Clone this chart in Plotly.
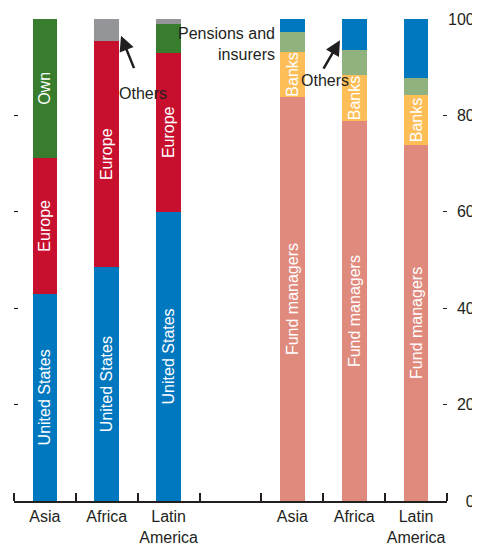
import plotly.graph_objects as go

# left group: origin of investors, right group: type of investor (percent)
regions = ["Asia", "Africa", "Latin<br>America"]
x_left = [0, 1, 2]
x_right = [4, 5, 6]

us = [43, 48.5, 60]
europe = [28.2, 46.9, 33]
own = [28.8, 0, 6]
others_origin = [0, 4.6, 1]

fund_managers = [83.8, 78.8, 73.9]
banks = [9.4, 9.6, 10.3]
pensions = [4.1, 5.2, 3.6]
others_type = [2.7, 6.4, 12.2]

yticks = [0, 20, 40, 60, 80, 100]
# pad with no-break spaces so the labels line up on the right like the original
ytick_text = ["\u00a0" * 4 + "0", "\u00a0\u00a020", "\u00a0\u00a040", "\u00a0\u00a060", "\u00a0\u00a080", "100"]

FONT = "Liberation Sans, Arial, sans-serif"
INK = "#231F20"
BAR_W = 0.4
FS = 16

fig = go.Figure()


def add_segment(x, y, color, labels=None):
    fig.add_trace(go.Bar(
        x=x, y=y, width=BAR_W, marker=dict(color=color, line=dict(width=0)),
        text=labels, textposition="inside" if labels else "none", textangle=-90,
        insidetextanchor="middle", insidetextfont=dict(color="white", size=FS, family=FONT),
        hoverinfo="skip", showlegend=False,
    ))


add_segment(x_left, us, "#0078BF", ["United States"] * 3)
add_segment(x_left, europe, "#C8102E", ["Europe"] * 3)
add_segment(x_left, own, "#377D2D", ["Own", "", ""])
add_segment(x_left, others_origin, "#939598")

add_segment(x_right, fund_managers, "#E08A7D", ["Fund managers"] * 3)
add_segment(x_right, banks, "#FDBD57", ["Banks"] * 3)
add_segment(x_right, pensions, "#8FB27E")
add_segment(x_right, others_type, "#0078BF")

# dummy trace so the right axis gets drawn
fig.add_trace(go.Scatter(x=[0], y=[0], yaxis="y2", mode="none", showlegend=False, hoverinfo="skip"))

# annotations
arrows = [
    dict(x=1.23, y=96.5, ax=1.45, ay=89.5),
    dict(x=4.77, y=95.6, ax=4.49, ay=89.4),
]
for a in arrows:
    fig.add_annotation(x=a["x"], y=a["y"], ax=a["ax"], ay=a["ay"], axref="x", ayref="y",
                       text="", showarrow=True, arrowhead=2, arrowsize=1.2, arrowwidth=2.5,
                       arrowcolor=INK)
fig.add_annotation(x=1.58, y=84.6, text="Others", showarrow=False, font=dict(size=FS, color=INK, family=FONT))
fig.add_annotation(x=4.52, y=87.3, text="Others", showarrow=False, font=dict(size=FS, color=INK, family=FONT))
fig.add_annotation(x=3.75, y=94.8, text="Pensions and<br>insurers", showarrow=False, xanchor="right",
                   align="right", font=dict(size=FS, color=INK, family=FONT))

# page body adds an 8px margin, so the figure is 8px smaller than the window
fig.update_layout(
    width=472, height=541,
    margin=dict(l=6, r=33, t=11, b=48),
    barmode="stack",
    plot_bgcolor="white", paper_bgcolor="white",
    font=dict(family=FONT, size=FS, color=INK),
    uniformtext=dict(minsize=FS, mode="show"),
    showlegend=False,
    xaxis=dict(range=[-0.5, 6.5], automargin=False,
               tickvals=x_left + x_right, ticktext=regions + regions, ticks="",
               showline=True, linecolor=INK, linewidth=1.5, showgrid=False, zeroline=False,
               minor=dict(tickmode="array", tickvals=[i - 0.5 for i in range(8)], ticks="inside",
                          ticklen=8, tickwidth=1.5, tickcolor=INK, showgrid=False)),
    yaxis=dict(range=[0, 100], tickvals=yticks[1:], ticks="inside", ticklen=4, tickcolor=INK,
               showticklabels=False, showgrid=False, zeroline=False, showline=False, automargin=False),
    yaxis2=dict(overlaying="y", anchor="x", side="right", range=[0, 100],
                tickvals=yticks, ticktext=ytick_text,
                ticks="inside", ticklen=4, tickcolor=INK, automargin=False,
                showgrid=False, zeroline=False, showline=False),
)

fig.write_html("out.html")
